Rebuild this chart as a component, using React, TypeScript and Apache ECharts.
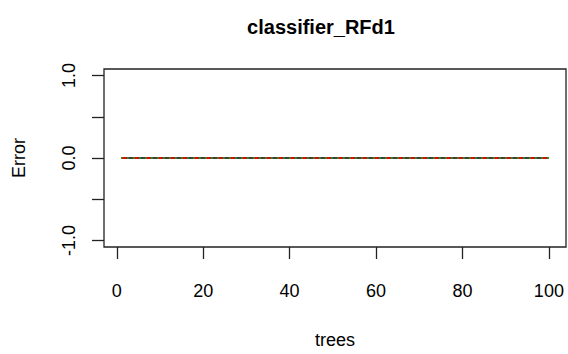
import React, { useEffect, useRef } from "react";
import * as echarts from "echarts";

const chartTitle = "classifier_RFd1";
const xName = "trees";
const yName = "Error";

const trees = [
  1, 2, 3, 4, 5, 6, 7, 8, 9, 10, 11, 12, 13, 14, 15, 16, 17, 18, 19, 20,
  21, 22, 23, 24, 25, 26, 27, 28, 29, 30, 31, 32, 33, 34, 35, 36, 37, 38, 39, 40,
  41, 42, 43, 44, 45, 46, 47, 48, 49, 50, 51, 52, 53, 54, 55, 56, 57, 58, 59, 60,
  61, 62, 63, 64, 65, 66, 67, 68, 69, 70, 71, 72, 73, 74, 75, 76, 77, 78, 79, 80,
  81, 82, 83, 84, 85, 86, 87, 88, 89, 90, 91, 92, 93, 94, 95, 96, 97, 98, 99, 100,
];

const oobError = [
  0, 0, 0, 0, 0, 0, 0, 0, 0, 0, 0, 0, 0, 0, 0, 0, 0, 0, 0, 0,
  0, 0, 0, 0, 0, 0, 0, 0, 0, 0, 0, 0, 0, 0, 0, 0, 0, 0, 0, 0,
  0, 0, 0, 0, 0, 0, 0, 0, 0, 0, 0, 0, 0, 0, 0, 0, 0, 0, 0, 0,
  0, 0, 0, 0, 0, 0, 0, 0, 0, 0, 0, 0, 0, 0, 0, 0, 0, 0, 0, 0,
  0, 0, 0, 0, 0, 0, 0, 0, 0, 0, 0, 0, 0, 0, 0, 0, 0, 0, 0, 0,
];
const class1Error = [
  0, 0, 0, 0, 0, 0, 0, 0, 0, 0, 0, 0, 0, 0, 0, 0, 0, 0, 0, 0,
  0, 0, 0, 0, 0, 0, 0, 0, 0, 0, 0, 0, 0, 0, 0, 0, 0, 0, 0, 0,
  0, 0, 0, 0, 0, 0, 0, 0, 0, 0, 0, 0, 0, 0, 0, 0, 0, 0, 0, 0,
  0, 0, 0, 0, 0, 0, 0, 0, 0, 0, 0, 0, 0, 0, 0, 0, 0, 0, 0, 0,
  0, 0, 0, 0, 0, 0, 0, 0, 0, 0, 0, 0, 0, 0, 0, 0, 0, 0, 0, 0,
];
const class2Error = [
  0, 0, 0, 0, 0, 0, 0, 0, 0, 0, 0, 0, 0, 0, 0, 0, 0, 0, 0, 0,
  0, 0, 0, 0, 0, 0, 0, 0, 0, 0, 0, 0, 0, 0, 0, 0, 0, 0, 0, 0,
  0, 0, 0, 0, 0, 0, 0, 0, 0, 0, 0, 0, 0, 0, 0, 0, 0, 0, 0, 0,
  0, 0, 0, 0, 0, 0, 0, 0, 0, 0, 0, 0, 0, 0, 0, 0, 0, 0, 0, 0,
  0, 0, 0, 0, 0, 0, 0, 0, 0, 0, 0, 0, 0, 0, 0, 0, 0, 0, 0, 0,
];

const xTicks = [0, 20, 40, 60, 80, 100];
const yTicks = [-1, -0.5, 0, 0.5, 1];
const yLabels = [-1, 0, 1];

const FONT = "'Liberation Sans', Arial, Helvetica, sans-serif";

export default function App() {
  const ref = useRef<HTMLDivElement>(null);
  useEffect(() => {
    if (!ref.current) return;
    const chart = echarts.init(ref.current, null, { renderer: "svg" });
    const mk = (arr: number[]) => trees.map((t, i) => [t, arr[i]]);
    chart.setOption({
      animation: false,
      backgroundColor: "#ffffff",
      textStyle: { fontFamily: FONT },
      grid: {
        left: 104,
        top: 69,
        width: 462,
        height: 186,
        show: true,
        borderColor: "#222",
        borderWidth: 1.3,
        backgroundColor: "transparent",
      },
      graphic: [
        {
          type: "text",
          x: 321,
          y: 27,
          style: {
            text: chartTitle,
            font: `bold 20px ${FONT}`,
            fill: "#000",
            textAlign: "center",
            textVerticalAlign: "middle",
          },
        },
      ],
      xAxis: {
        type: "value",
        min: -2.96,
        max: 103.96,
        name: xName,
        nameLocation: "middle",
        nameGap: 84,
        nameTextStyle: { fontSize: 18, color: "#000", fontFamily: FONT },
        axisLine: { show: false, onZero: false },
        axisTick: {
          show: true,
          length: 12,
          customValues: xTicks,
          lineStyle: { color: "#222", width: 1.3 },
        },
        axisLabel: {
          customValues: xTicks,
          fontSize: 18,
          color: "#000",
          margin: 35,
          fontFamily: FONT,
        },
        splitLine: { show: false },
      },
      yAxis: {
        type: "value",
        min: -1.08,
        max: 1.08,
        name: yName,
        nameLocation: "middle",
        nameRotate: 90,
        nameGap: 76,
        nameTextStyle: { fontSize: 18, color: "#000", fontFamily: FONT },
        axisLine: { show: false, onZero: false },
        axisTick: {
          show: true,
          length: 12,
          customValues: yTicks,
          lineStyle: { color: "#222", width: 1.3 },
        },
        axisLabel: {
          customValues: yLabels,
          rotate: 90,
          fontSize: 18,
          color: "#000",
          margin: 26,
          fontFamily: FONT,
          formatter: (v: number) => v.toFixed(1),
        },
        splitLine: { show: false },
      },
      series: [
        {
          type: "line",
          data: mk(oobError),
          showSymbol: false,
          lineStyle: { color: "#000", width: 1.5, type: "solid" },
        },
        {
          type: "line",
          data: mk(class1Error),
          showSymbol: false,
          lineStyle: { color: "#ff0000", width: 1.5, type: [6, 6] },
        },
        {
          type: "line",
          data: mk(class2Error),
          showSymbol: false,
          lineStyle: { color: "#00cd00", width: 1.5, type: [1.5, 4.5] },
        },
      ],
    });
    return () => chart.dispose();
  }, []);
  return (
    <div
      ref={ref}
      style={{ position: "absolute", left: 0, top: 0, width: 568, height: 354 }}
    />
  );
}
